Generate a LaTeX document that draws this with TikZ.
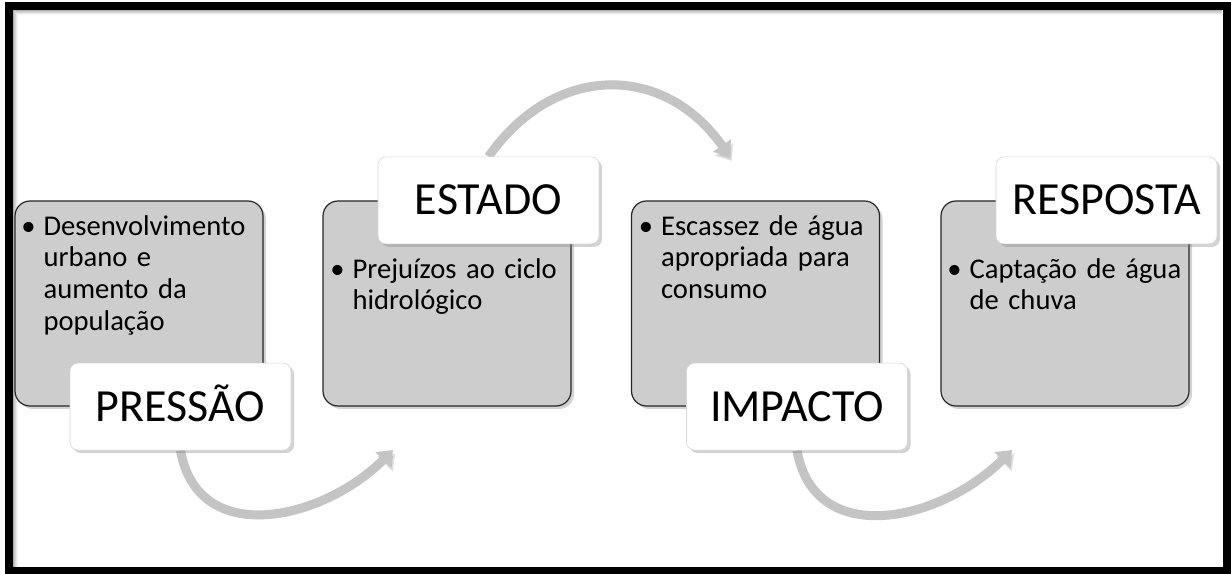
\documentclass[tikz,border=0pt]{standalone}
\usepackage{fontspec}
\setmainfont{Carlito}[WordSpace=0.7]
\usetikzlibrary{arrows.meta,calc,backgrounds,shadows}
\definecolor{boxgray}{RGB}{205,205,205}
\definecolor{arrowgray}{RGB}{196,196,196}
\definecolor{headline}{RGB}{215,215,215}

\begin{document}
\begin{tikzpicture}[x=1pt, y=1pt,
  stage/.style={draw=black!85, line width=1.2pt, fill=boxgray, rounded corners=15pt,
    minimum width=248pt, minimum height=205pt, inner sep=0pt,
    drop shadow={shadow xshift=3pt, shadow yshift=-3pt, opacity=0.35}},
  head/.style={draw=headline, line width=0.6pt, fill=white, rounded corners=8pt,
    minimum width=221pt, minimum height=87pt, inner sep=0pt,
    text height=29pt, text depth=0pt,
    font=\fontsize{46}{50}\selectfont,
    drop shadow={shadow xshift=3pt, shadow yshift=-3pt, opacity=0.35}},
  bullettext/.style={anchor=base west, inner sep=0pt, align=left, text width=240pt,
    font=\fontsize{28.6}{31.6}\selectfont},
  cyc/.style={line width=9pt, arrowgray, -{Triangle[width=21pt,length=14pt]},
    preaction={draw=black, opacity=0.12, transform canvas={shift={(2pt,-4pt)}}}},
]
\useasboundingbox (0,0) rectangle (1231,573);

% ---------- frame ----------
\draw[line width=8pt] (9,2) rectangle (1227,566.5);
\foreach \i/\o in {1/0.30,2/0.22,3/0.15,4/0.09,5/0.04}
  \draw[black, opacity=\o, line width=1pt] (12.5+\i,6) -- (12.5+\i,563-\i) -- (1222,563-\i);

% ---------- stages ----------
\node[stage] (b1) at (139,269.5) {};
\node[stage] (b2) at (447,269.5) {};
\node[stage] (b3) at (755.5,269.5) {};
\node[stage] (b4) at (1065,269.5) {};

\node[bullettext] (t1) at ($(b1.north west)+(29,-35)$)
  {\llap{\textbullet\hspace{8pt}}Desenvolvimento\\urbano e\\aumento da\\população};
\node[bullettext] (t2) at ($(b2.north west)+(30,-78)$)
  {\llap{\textbullet\hspace{8pt}}Prejuízos ao ciclo\\hidrológico};
\node[bullettext] (t3) at ($(b3.north west)+(30,-35)$)
  {\llap{\textbullet\hspace{8pt}}Escassez de água\\apropriada para\\consumo};
\node[bullettext] (t4) at ($(b4.north west)+(29,-78)$)
  {\llap{\textbullet\hspace{8pt}}Captação de água\\de chuva};

% ---------- headings ----------
\node[head] (pressao) at ($(b1.south)+(41.5,0)$) {PRESSÃO};
\node[head] (estado) at ($(b2.north)+(41.5,0)$) {ESTADO};
\node[head] (impacto) at ($(b3.south)+(41.5,0)$) {IMPACTO};
\node[head] (resposta) at ($(b4.north)+(41.5,0)$) {RESPOSTA};

% ---------- cycle arrows ----------
\coordinate (a1end) at (393,123);
\coordinate (a2end) at (730,416);
\coordinate (a3end) at (1012,123);
\begin{scope}[on background layer]
  \draw[cyc] (pressao.south) to[out=-80, in=-135, looseness=1.2] (a1end);
  \draw[cyc] (estado.north) to[out=55, in=125, looseness=1.22] (a2end);
  \draw[cyc] (impacto.south) to[out=-80, in=-135, looseness=1.2] (a3end);
\end{scope}

\end{tikzpicture}
\end{document}
